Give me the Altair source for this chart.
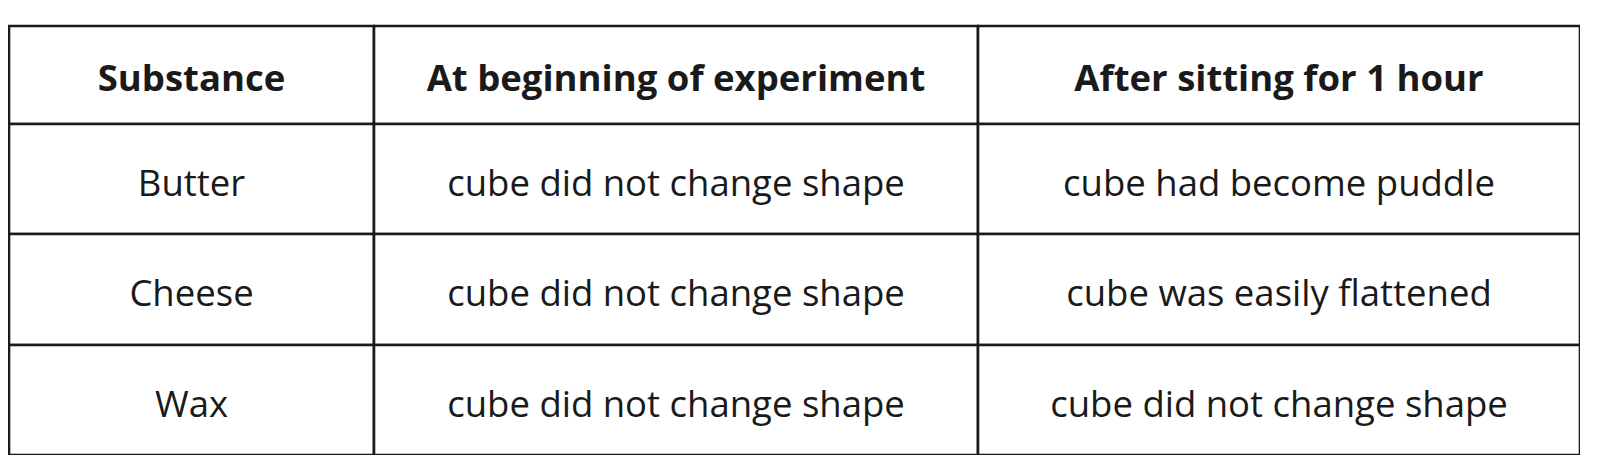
import altair as alt
import pandas as pd

# ---- table content ----
headers = ["Substance", "At beginning of experiment", "After sitting for 1 hour"]
substances = ["Butter", "Cheese", "Wax"]
at_beginning = ["cube did not change shape", "cube did not change shape", "cube did not change shape"]
after_hour = ["cube had become puddle", "cube was easily flattened", "cube did not change shape"]

# ---- layout (pixels) ----
col_widths = [365, 604, 602]
row_heights = [98, 110, 111, 110]
W = sum(col_widths)
H = sum(row_heights)

col_edges = [sum(col_widths[:i]) for i in range(len(col_widths) + 1)]
row_edges = [sum(row_heights[:i]) for i in range(len(row_heights) + 1)]

table_rows = [headers] + [list(r) for r in zip(substances, at_beginning, after_hour)]

cells = []
for ri, row in enumerate(table_rows):
    for ci, txt in enumerate(row):
        cells.append({
            "x0": col_edges[ci], "x1": col_edges[ci + 1],
            "y0": row_edges[ri], "y1": row_edges[ri + 1],
            "xc": (col_edges[ci] + col_edges[ci + 1]) / 2,
            "yc": (row_edges[ri] + row_edges[ri + 1]) / 2,
            "text": txt,
            "header": ri == 0,
        })
df = pd.DataFrame(cells)

xs = alt.Scale(domain=[0, W], nice=False, zero=False)
ys = alt.Scale(domain=[0, H], nice=False, zero=False, reverse=True)

rects = alt.Chart(df).mark_rect(fill="white", stroke="#1a1a1a", strokeWidth=2.6).encode(
    x=alt.X("x0:Q", scale=xs, axis=None),
    x2="x1:Q",
    y=alt.Y("y0:Q", scale=ys, axis=None),
    y2="y1:Q",
)

head_text = alt.Chart(df[df["header"]]).mark_text(
    font="Open Sans", fontWeight="bold", fontSize=36.5, color="#1a1a1a",
    align="center", baseline="alphabetic", dy=16,
).encode(
    x=alt.X("xc:Q", scale=xs, axis=None),
    y=alt.Y("yc:Q", scale=ys, axis=None),
    text="text:N",
)

body_text = alt.Chart(df[~df["header"]]).mark_text(
    font="Open Sans", fontSize=36.5, color="#1a1a1a",
    align="center", baseline="alphabetic", dy=16.5,
).encode(
    x=alt.X("xc:Q", scale=xs, axis=None),
    y=alt.Y("yc:Q", scale=ys, axis=None),
    text="text:N",
)

chart = (rects + head_text + body_text).properties(
    width=W, height=H,
    padding={"left": 1, "top": 18, "right": 0, "bottom": 0},
    autosize=alt.AutoSizeParams(type="none"),
    background="white",
).configure_view(stroke=None)

chart.save("out.html", embed_options={"renderer": "svg", "actions": False})
